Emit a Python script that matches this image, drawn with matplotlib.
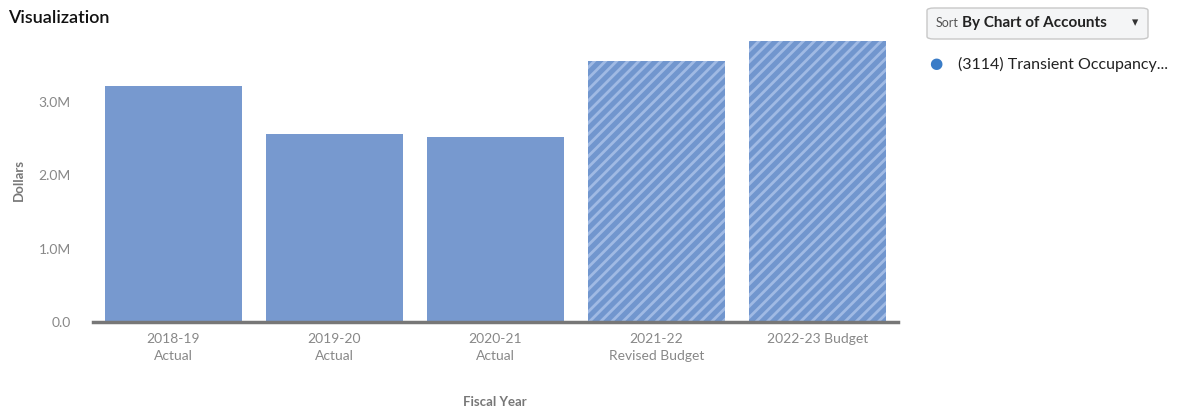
import matplotlib as mpl
mpl.use('Agg')
import matplotlib.pyplot as plt
from matplotlib.patches import FancyBboxPatch

# Data
years = ['2018-19\nActual', '2019-20\nActual', '2020-21\nActual',
         '2021-22\nRevised Budget', '2022-23 Budget']
values = [3.22e6, 2.56e6, 2.52e6, 3.55e6, 3.83e6]
is_budget = [False, False, False, True, True]
y_ticks = [0, 1e6, 2e6, 3e6]
y_ticklabels = ['0.0', '1.0M', '2.0M', '3.0M']

plt.rcParams['font.family'] = ['Lato', 'DejaVu Sans']
plt.rcParams['hatch.linewidth'] = 2.0

fig = plt.figure(figsize=(11.9, 4.11), dpi=100)
ax = fig.add_axes([93 / 1190, 1 - 322 / 411, 805 / 1190, 290 / 411])

bar_color = '#7799cf'
for i, (v, b) in enumerate(zip(values, is_budget)):
    if b:
        ax.bar(i, v, width=0.845, color='#7196ce', edgecolor='#a0bae4',
               hatch='///', linewidth=0)
    else:
        ax.bar(i, v, width=0.845, color=bar_color, linewidth=0)

ax.set_xlim(-0.5, 4.5)
ax.set_ylim(0, 3.95e6)
ax.set_yticks(y_ticks)
ax.set_yticklabels(y_ticklabels)
ax.set_xticks(range(len(years)))
ax.set_xticklabels(years, linespacing=1.5)
ax.tick_params(axis='both', length=0, colors='#888888', labelsize=10)
ax.tick_params(axis='y', pad=16)
ax.tick_params(axis='x', pad=8)

for s in ['top', 'right', 'left']:
    ax.spines[s].set_visible(False)
ax.spines['bottom'].set_color('#777777')
ax.spines['bottom'].set_linewidth(2.5)

fig.text(19 / 1190, 1 - 180 / 411, 'Dollars', rotation=90, ha='center', va='center',
         fontsize=9.5, fontweight='bold', color='#777777')
fig.text(495 / 1190, 1 - 402 / 411, 'Fiscal Year', ha='center', va='center',
         fontsize=9.5, fontweight='bold', color='#777777')
fig.text(8 / 1190, 1 - 18 / 411, 'Visualization', ha='left', va='center',
         fontsize=13, fontweight='semibold', color='#111111')

# sort dropdown
box = FancyBboxPatch((927 / 1190, 1 - 39 / 411), 221 / 1190, 31 / 411,
                     boxstyle='round,pad=0,rounding_size=0.006',
                     transform=fig.transFigure, facecolor='#f4f5f6',
                     edgecolor='#c8c8c8', linewidth=1)
fig.patches.append(box)
fig.text(936 / 1190, 1 - 23 / 411, 'Sort', ha='left', va='center',
         fontsize=9, color='#555555')
fig.text(962 / 1190, 1 - 23 / 411, 'By Chart of Accounts', ha='left', va='center',
         fontsize=11, fontweight='bold', color='#222222')
fig.text(1135 / 1190, 1 - 23 / 411, '\u25be', ha='center', va='center',
         fontsize=9, color='#333333', family='DejaVu Sans')

# legend
fig.text(936 / 1190, 1 - 64 / 411, '\u25cf', ha='center', va='center',
         fontsize=11, color='#3a7cc7', family='DejaVu Sans')
fig.text(958 / 1190, 1 - 64 / 411, '(3114) Transient Occupancy...', ha='left',
         va='center', fontsize=11.5, color='#222222')

plt.savefig('out.png', dpi=100)
plt.close()
